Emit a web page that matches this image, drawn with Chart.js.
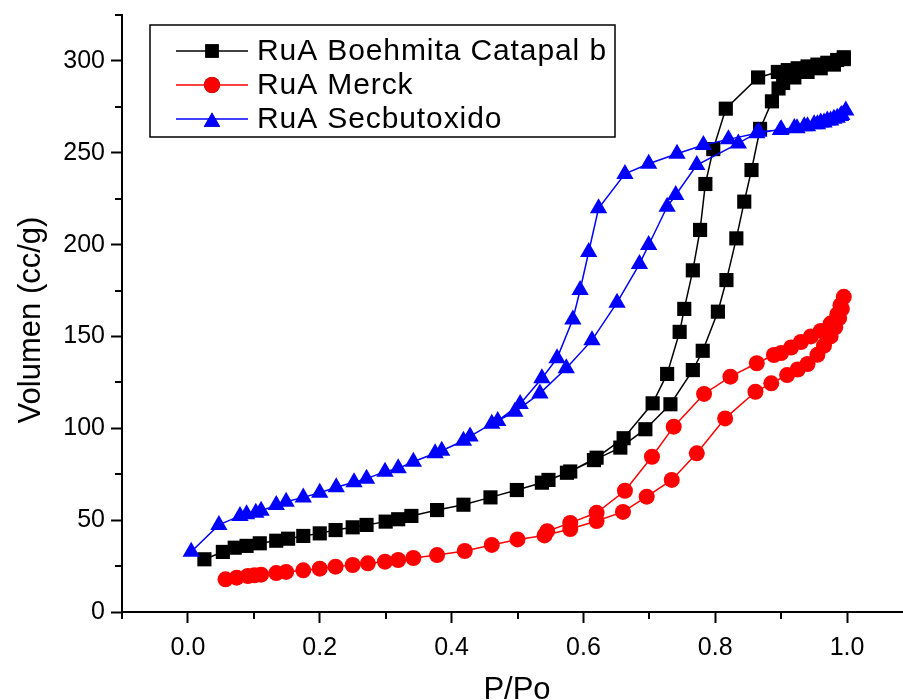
<!DOCTYPE html>
<html>
<head>
<meta charset="utf-8">
<script src="https://cdn.jsdelivr.net/npm/chart.js@4"></script>
<style>
  html, body { margin: 0; padding: 0; background: #fff; overflow: hidden; }
  #wrap { width: 923px; height: 700px; position: relative; }
</style>
</head>
<body>
<div id="wrap"><canvas id="chart"></canvas></div>
<script>
// RuA Boehmita Catapal b
const boehmitaAdsX = [0.025, 0.053, 0.071, 0.089, 0.109, 0.134, 0.152, 0.175, 0.2, 0.224, 0.25, 0.271, 0.3, 0.319, 0.339, 0.378, 0.418, 0.459, 0.499, 0.537, 0.575, 0.616, 0.656, 0.694, 0.732, 0.766, 0.781, 0.804, 0.817, 0.832, 0.844, 0.855, 0.868, 0.886, 0.896, 0.903, 0.92, 0.94, 0.96, 0.98, 0.995];
const boehmitaAdsY = [28.7, 32.7, 35, 36, 37.4, 38.8, 39.9, 41.4, 42.8, 44.6, 46.1, 47.4, 49.2, 50.5, 52.3, 55.5, 58.4, 62.4, 66.4, 70.4, 75.8, 82.7, 89.5, 99.5, 113.1, 131.7, 142.2, 163.5, 180.7, 203.4, 223.4, 240.6, 263, 278, 285, 288, 291, 294, 296, 298, 301];
const boehmitaDesX = [0.995, 0.985, 0.97, 0.955, 0.94, 0.925, 0.91, 0.895, 0.865, 0.816, 0.797, 0.785, 0.777, 0.766, 0.753, 0.746, 0.727, 0.705, 0.661, 0.62, 0.58, 0.547];
const boehmitaDesY = [302, 300.5, 299, 298, 297, 296, 295, 294, 291, 274, 252, 233, 208, 186, 165, 152.5, 129.6, 113.6, 94.6, 84, 76.5, 71.9];

// RuA Merck
const merckAdsX = [0.057, 0.074, 0.091, 0.101, 0.111, 0.134, 0.149, 0.175, 0.2, 0.224, 0.25, 0.273, 0.299, 0.319, 0.342, 0.378, 0.42, 0.461, 0.5, 0.541, 0.58, 0.62, 0.66, 0.696, 0.734, 0.772, 0.815, 0.861, 0.885, 0.909, 0.925, 0.94, 0.955, 0.965, 0.975, 0.982, 0.988, 0.992, 0.995];
const merckAdsY = [17.8, 18.7, 19.6, 20, 20.3, 21.2, 21.8, 22.7, 23.6, 24.7, 25.6, 26.5, 27.4, 28.3, 29.4, 31, 33.2, 36.5, 39.5, 41.7, 45.2, 49.5, 54.5, 62.8, 71.9, 86.4, 105.4, 119.9, 124.5, 129, 132, 135, 140, 145, 150, 155, 160, 165, 171.6];
const merckDesX = [0.99, 0.985, 0.975, 0.96, 0.945, 0.93, 0.915, 0.9, 0.889, 0.863, 0.823, 0.783, 0.737, 0.704, 0.663, 0.62, 0.58, 0.545];
const merckDesY = [167, 162, 157, 153, 150, 147, 144, 141, 139.9, 135.4, 128.1, 118.7, 100.9, 84.5, 66, 54, 48.5, 44];

// RuA Secbutoxido
const secbutAdsX = [0.005, 0.047, 0.079, 0.089, 0.103, 0.111, 0.134, 0.149, 0.175, 0.2, 0.225, 0.252, 0.271, 0.299, 0.319, 0.342, 0.375, 0.385, 0.418, 0.428, 0.461, 0.496, 0.534, 0.574, 0.613, 0.651, 0.685, 0.699, 0.727, 0.74, 0.772, 0.835, 0.866, 0.899, 0.924, 0.94, 0.955, 0.965, 0.975, 0.985, 0.992, 0.998];
const secbutAdsY = [32.8, 47.4, 52.3, 53.2, 54, 55.1, 58.2, 60, 62.4, 64.9, 67.9, 70.6, 72.6, 76.4, 78.2, 81.8, 86.4, 87.8, 93.2, 95.6, 102.5, 109, 119, 132.7, 148, 168.4, 189.4, 199.8, 220.6, 227, 243.3, 255.1, 261.5, 262.4, 263.3, 264.5, 265.5, 266.5, 267.5, 269, 270.5, 273];
const secbutDesX = [0.99, 0.98, 0.97, 0.96, 0.95, 0.935, 0.92, 0.9, 0.863, 0.82, 0.782, 0.742, 0.699, 0.663, 0.623, 0.608, 0.595, 0.584, 0.56, 0.537, 0.504, 0.47];
const secbutDesY = [270, 268.5, 267.5, 266.5, 265.5, 264.5, 263.5, 262.8, 260.6, 257.3, 254.2, 249.5, 244, 238.5, 219.8, 196, 175.3, 159.3, 138.1, 127.2, 113.2, 104];

const seriesNames = ["RuA Boehmita Catapal b", "RuA Merck", "RuA Secbutoxido"];
const seriesColors = ["#000000", "#ff0000", "#0000ff"];
const seriesMarkers = ["rect", "circle", "triangle"];
const markerRadius = [10, 8, 10];

const xMin = -0.1, xMax = 1.1;
const yMin = 0, yMax = 325;

const FONT = "'Liberation Sans', Arial, Helvetica, sans-serif";

function toPoints(xa, ya, xd, yd) {
  const pts = xa.map((x, i) => ({ x, y: ya[i] }));
  return pts.concat(xd.map((x, i) => ({ x, y: yd[i] })));
}

const seriesData = [
  toPoints(boehmitaAdsX, boehmitaAdsY, boehmitaDesX, boehmitaDesY),
  toPoints(merckAdsX, merckAdsY, merckDesX, merckDesY),
  toPoints(secbutAdsX, secbutAdsY, secbutDesX, secbutDesY),
];

function isMajorX(v) { return Math.round(v * 10) % 2 === 0; }
function isMajorY(v) { return Math.round(v) % 50 === 0; }

// minor ticks, legend box and axis titles
const decorations = {
  id: "decorations",
  afterDraw(chart) {
    const ctx = chart.ctx;
    const xs = chart.scales.x;
    const ys = chart.scales.y;
    const area = chart.chartArea;
    ctx.save();
    ctx.strokeStyle = "#000";
    ctx.lineWidth = 2;
    xs.ticks.forEach((t) => {
      if (isMajorX(t.value)) return;
      const px = Math.round(xs.getPixelForValue(t.value));
      ctx.beginPath();
      ctx.moveTo(px, area.bottom);
      ctx.lineTo(px, area.bottom + 7);
      ctx.stroke();
    });
    ys.ticks.forEach((t) => {
      if (isMajorY(t.value)) return;
      const py = Math.round(ys.getPixelForValue(t.value));
      ctx.beginPath();
      ctx.moveTo(area.left, py);
      ctx.lineTo(area.left - 7, py);
      ctx.stroke();
    });

    // legend
    ctx.lineWidth = 1.5;
    ctx.strokeRect(150, 25, 465, 112);
    const rows = [51, 85, 119];
    ctx.font = "30px " + FONT;
    ctx.letterSpacing = "0.9px";
    ctx.textBaseline = "middle";
    ctx.textAlign = "left";
    rows.forEach((ry, i) => {
      ctx.strokeStyle = seriesColors[i];
      ctx.lineWidth = 1.5;
      ctx.beginPath();
      ctx.moveTo(176, ry);
      ctx.lineTo(248, ry);
      ctx.stroke();
      Chart.helpers.drawPoint(ctx, {
        pointStyle: seriesMarkers[i],
        radius: i === 1 ? 8 : 9.5,
        borderWidth: 0,
        rotation: 0,
      }, 212, i === 2 ? ry + 3 : ry);
      ctx.fillStyle = seriesColors[i];
      ctx.fill();
      ctx.fillStyle = "#000";
      ctx.fillText(seriesNames[i], 257, ry + 1);
    });
    ctx.letterSpacing = "0px";

    // axis titles
    ctx.fillStyle = "#000";
    ctx.font = "31px " + FONT;
    ctx.textAlign = "center";
    ctx.textBaseline = "alphabetic";
    ctx.fillText("P/Po", 517, 699);
    ctx.save();
    ctx.translate(40, 320);
    ctx.rotate(-Math.PI / 2);
    ctx.fillText("Volumen (cc/g)", 0, 0);
    ctx.restore();
    ctx.restore();
  },
};

new Chart(document.getElementById("chart"), {
  type: "line",
  data: {
    datasets: seriesData.map((pts, i) => ({
      label: seriesNames[i],
      data: pts,
      borderColor: seriesColors[i],
      backgroundColor: seriesColors[i],
      borderWidth: 1.5,
      pointStyle: seriesMarkers[i],
      pointRadius: markerRadius[i],
      pointBorderWidth: 0,
      pointBackgroundColor: seriesColors[i],
      tension: 0,
      fill: false,
      order: 2 - i,
    })),
  },
  options: {
    responsive: true,
    maintainAspectRatio: false,
    animation: false,
    layout: { padding: { top: 15, right: 3, left: 0, bottom: 0 } },
    plugins: { legend: { display: false }, tooltip: { enabled: false } },
    scales: {
      x: {
        type: "linear",
        min: xMin,
        max: xMax,
        afterFit: (s) => { s.height = 88; s.paddingLeft = 0; s.paddingRight = 0; },
        border: { display: true, color: "#000", width: 2 },
        grid: {
          drawOnChartArea: false,
          drawTicks: true,
          tickLength: 11,
          tickWidth: 2,
          tickColor: (c) => (c.tick && isMajorX(c.tick.value) ? "#000" : "rgba(0,0,0,0)"),
        },
        ticks: {
          stepSize: 0.1,
          autoSkip: false,
          maxRotation: 0,
          padding: 10,
          color: "#000",
          font: { family: FONT, size: 25 },
          callback: (v) => (isMajorX(v) ? Number(v).toFixed(1) : ""),
        },
      },
      y: {
        type: "linear",
        min: yMin,
        max: yMax,
        afterFit: (s) => { s.width = 122; s.paddingTop = 0; s.paddingBottom = 0; },
        border: { display: true, color: "#000", width: 2 },
        grid: {
          drawOnChartArea: false,
          drawTicks: true,
          tickLength: 11,
          tickWidth: 2,
          tickColor: (c) => (c.tick && isMajorY(c.tick.value) ? "#000" : "rgba(0,0,0,0)"),
        },
        ticks: {
          stepSize: 25,
          autoSkip: false,
          padding: 6,
          color: "#000",
          font: { family: FONT, size: 25 },
          callback: (v) => (isMajorY(v) ? String(Math.round(v)) : ""),
        },
      },
    },
  },
  plugins: [decorations],
});
</script>
</body>
</html>
